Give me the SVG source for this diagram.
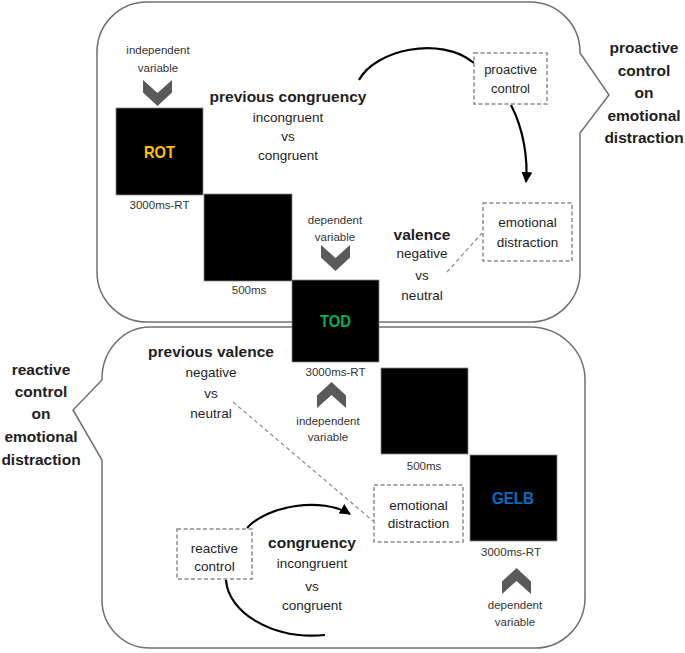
<svg xmlns="http://www.w3.org/2000/svg" width="685" height="653" viewBox="0 0 685 653">
<style>
.callout{fill:#fff;stroke:#707070;stroke-width:1.5}
.stim{fill:#000;stroke:#888;stroke-width:0.8}
.t{font-family:"Liberation Sans",Arial,sans-serif;fill:#1e1e1e;text-anchor:middle}
.sm{font-size:11.5px;fill:#333}
.reg{font-size:13.5px}
.bd{font-size:15.5px;font-weight:bold}
.word{font-family:"Liberation Sans",Arial,sans-serif;font-size:17px;font-weight:bold;text-anchor:middle}
.dbox{fill:#fff;stroke:#8a8a8a;stroke-width:1.5;stroke-dasharray:4 2.5}
.dline{fill:none;stroke:#8a8a8a;stroke-width:1.2;stroke-dasharray:4 3}
.arc{fill:none;stroke:#000;stroke-width:2.2}
.chev{fill:#5a5a5a}
</style>
<defs>
<path id="chevDown" d="M0,0 L14.5,13 L29,0 L29,12.5 L14.5,26 L0,12.5 Z"/>
<path id="chevUp" d="M0,26 L14.5,13 L29,26 L29,13.5 L14.5,0 L0,13.5 Z"/>
<marker id="ah" markerUnits="userSpaceOnUse" markerWidth="12" markerHeight="12" viewBox="0 0 12 12" refX="10" refY="6" orient="auto">
<path d="M0,0.5 L11,6 L0,11.5 Z" fill="#000"/>
</marker>
</defs>

<g id="callout-proactive">
<path class="callout" d="M147,2 H530 A50,50 0 0 1 580,52 V53 L609,95 L580,133 V272 A50,50 0 0 1 530,322 H147 A50,50 0 0 1 97,272 V52 A50,50 0 0 1 147,2 Z"/>
<text class="t bd" x="644" y="53">proactive</text>
<text class="t bd" x="644" y="76">control</text>
<text class="t bd" x="644" y="98">on</text>
<text class="t bd" x="644" y="121">emotional</text>
<text class="t bd" x="644" y="143">distraction</text>
</g>

<g id="callout-reactive">
<path class="callout" d="M150,327 H530 A55,53 0 0 1 585,380 V598 A50,50 0 0 1 535,648 H150 A48,48 0 0 1 102,600 V460 L73,410 L102,380 A48,52 0 0 1 150,327 Z"/>
<text class="t bd" x="41" y="375">reactive</text>
<text class="t bd" x="41" y="397">control</text>
<text class="t bd" x="41" y="419">on</text>
<text class="t bd" x="41" y="442">emotional</text>
<text class="t bd" x="41" y="465">distraction</text>
</g>

<g id="connectors">
<path class="arc" d="M359,80 C375,50 440,35 474,63"/>
<path class="arc" d="M511,105 C524,130 528,160 526,182" marker-end="url(#ah)"/>
<line class="dline" x1="447" y1="272" x2="482" y2="233"/>
<line class="dline" x1="233" y1="402" x2="373" y2="521"/>
<path class="arc" d="M247,528 C268,505 322,497 350,514" marker-end="url(#ah)"/>
<path class="arc" d="M226,580 C228,612 272,640 325,635"/>
</g>

<g id="trial1">
<text class="t sm" x="158" y="54">independent</text>
<text class="t sm" x="158" y="72">variable</text>
<use href="#chevDown" class="chev" x="143" y="80"/>
<rect class="stim" x="116" y="108" width="87" height="87"/>
<text class="word" x="159.5" y="158" fill="#FFC000" textLength="31" lengthAdjust="spacingAndGlyphs">ROT</text>
<text class="t sm" x="159.5" y="209">3000ms-RT</text>
</g>

<g id="blank1">
<rect class="stim" x="204" y="194" width="88" height="87"/>
<text class="t sm" x="249" y="294">500ms</text>
</g>

<g id="trial2">
<text class="t sm" x="335" y="224">dependent</text>
<text class="t sm" x="335" y="241">variable</text>
<use href="#chevDown" class="chev" x="321" y="245"/>
<rect class="stim" x="292" y="280" width="87" height="82"/>
<text class="word" x="335.5" y="327" fill="#00B050" textLength="31" lengthAdjust="spacingAndGlyphs">TOD</text>
<text class="t sm" x="335.5" y="376">3000ms-RT</text>
<use href="#chevUp" class="chev" x="317" y="382"/>
<text class="t sm" x="328" y="425">independent</text>
<text class="t sm" x="328" y="441">variable</text>
</g>

<g id="blank2">
<rect class="stim" x="381" y="368" width="87" height="86"/>
<text class="t sm" x="424" y="470">500ms</text>
</g>

<g id="trial3">
<rect class="stim" x="470" y="455" width="87" height="86"/>
<text class="word" x="513" y="504" fill="#0070C0" textLength="42" lengthAdjust="spacingAndGlyphs">GELB</text>
<text class="t sm" x="511" y="556">3000ms-RT</text>
<use href="#chevUp" class="chev" x="502" y="568"/>
<text class="t sm" x="515" y="609">dependent</text>
<text class="t sm" x="515" y="626">variable</text>
</g>

<g id="previous-congruency">
<text class="t bd" x="288" y="102">previous congruency</text>
<text class="t reg" x="288" y="122">incongruent</text>
<text class="t reg" x="288" y="141">vs</text>
<text class="t reg" x="288" y="160">congruent</text>
</g>

<g id="proactive-control">
<rect class="dbox" x="474" y="53" width="73" height="51"/>
<text class="t reg" x="510.5" y="74" style="font-size:13px">proactive</text>
<text class="t reg" x="510.5" y="93" style="font-size:13px">control</text>
</g>

<g id="emotional-distraction-top">
<rect class="dbox" x="483" y="203" width="89" height="58"/>
<text class="t reg" x="527.5" y="227">emotional</text>
<text class="t reg" x="527.5" y="247">distraction</text>
</g>

<g id="valence">
<text class="t bd" x="422" y="240">valence</text>
<text class="t reg" x="422" y="258">negative</text>
<text class="t reg" x="422" y="280">vs</text>
<text class="t reg" x="422" y="300">neutral</text>
</g>

<g id="previous-valence">
<text class="t bd" x="211" y="357">previous valence</text>
<text class="t reg" x="211" y="377">negative</text>
<text class="t reg" x="211" y="398">vs</text>
<text class="t reg" x="211" y="418">neutral</text>
</g>

<g id="emotional-distraction-bottom">
<rect class="dbox" x="374" y="485" width="89" height="57"/>
<text class="t reg" x="418.5" y="510">emotional</text>
<text class="t reg" x="418.5" y="528">distraction</text>
</g>

<g id="reactive-control">
<rect class="dbox" x="177" y="529" width="75" height="50"/>
<text class="t reg" x="214.5" y="553">reactive</text>
<text class="t reg" x="214.5" y="571">control</text>
</g>

<g id="congruency">
<text class="t bd" x="312" y="548">congruency</text>
<text class="t reg" x="312" y="568">incongruent</text>
<text class="t reg" x="312" y="591">vs</text>
<text class="t reg" x="312" y="610">congruent</text>
</g>
</svg>
